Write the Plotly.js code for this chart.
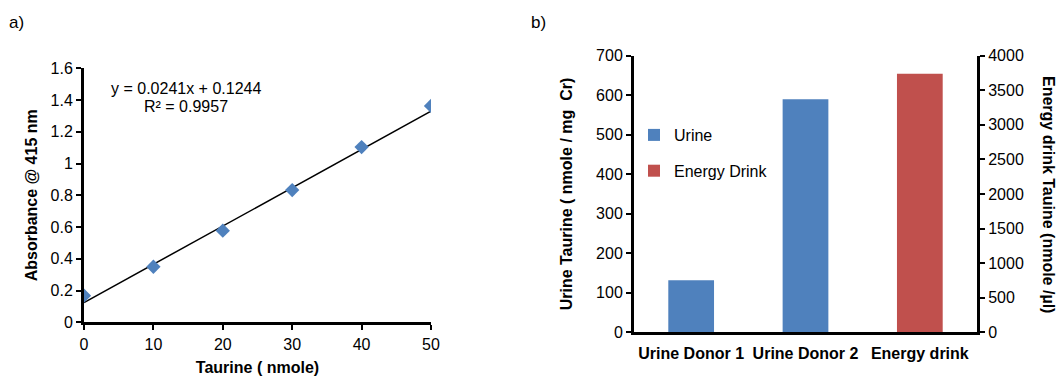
<!DOCTYPE html>
<html>
<head>
<meta charset="utf-8">
<script src="https://cdn.plot.ly/plotly-3.0.1.min.js"></script>
<style>html,body{margin:0;padding:0;background:#fff;}#chart{width:1057px;height:376px;}</style>
</head>
<body>
<div id="chart"></div>
<script>
// Panel a) calibration data
const taurineNmole = [0, 10, 20, 30, 40, 50];
const absorbance = [0.168, 0.35, 0.577, 0.833, 1.104, 1.363];
const fitSlope = 0.0241;
const fitIntercept = 0.1244;
const fitR2 = 0.9957;

// Panel b) bar data
const urineCategories = ['Urine Donor 1', 'Urine Donor 2'];
const urineValues = [132, 590];
const drinkCategories = ['Energy drink'];
const drinkValues = [3740];

const fitX = [0, 50];
const fitY = fitX.map(x => fitSlope * x + fitIntercept);

const W = 1057, H = 376;
const px = v => v / W;
const py = v => 1 - v / H;

const FONT = 'Liberation Sans, Arial, sans-serif';
const BLUE = '#4F81BD';
const RED = '#C0504D';

const traces = [
  {
    x: fitX, y: fitY, xaxis: 'x', yaxis: 'y', mode: 'lines', type: 'scatter',
    line: {color: '#000', width: 1.5}, showlegend: false, hoverinfo: 'skip'
  },
  {
    x: taurineNmole, y: absorbance, xaxis: 'x', yaxis: 'y', mode: 'markers', type: 'scatter',
    marker: {symbol: 'diamond', size: 11, color: BLUE}, showlegend: false
  },
  {
    x: urineCategories, y: urineValues, xaxis: 'x2', yaxis: 'y2', type: 'bar', name: 'Urine',
    marker: {color: BLUE}, width: 0.4, legendgroup: 'u'
  },
  {
    x: drinkCategories, y: drinkValues, xaxis: 'x2', yaxis: 'y3', type: 'bar', name: 'Energy Drink',
    marker: {color: RED}, width: 0.4, legendgroup: 'e'
  }
];

const tickFont = {family: FONT, size: 16, color: '#000'};
const titleFont = {family: FONT, size: 16, color: '#000', weight: 'bold'};

const layout = {
  width: W, height: H,
  margin: {l: 0, r: 0, t: 0, b: 0},
  paper_bgcolor: '#fff', plot_bgcolor: 'rgba(0,0,0,0)',
  font: {family: FONT, color: '#000'},
  barmode: 'overlay',
  showlegend: true,
  legend: {
    x: px(634), y: py(118), xanchor: 'left', yanchor: 'top',
    font: {family: FONT, size: 16, color: '#000'},
    traceorder: 'grouped', tracegroupgap: 12, bgcolor: 'rgba(0,0,0,0)'
  },
  xaxis: {
    domain: [px(84), px(431)], anchor: 'y', range: [0, 50], dtick: 10,
    showgrid: false, zeroline: false, showline: true, linecolor: '#000', linewidth: 3,
    ticks: 'outside', ticklen: 5, tickwidth: 2, tickcolor: '#000', tickfont: tickFont,
    title: {text: 'Taurine ( nmole)', font: titleFont, standoff: 11}, automargin: false
  },
  yaxis: {
    domain: [py(322.3), py(68.3)], anchor: 'x', range: [0, 1.6], dtick: 0.2,
    showgrid: false, zeroline: false, showline: true, linecolor: '#000', linewidth: 3,
    ticks: 'outside', ticklen: 5, tickwidth: 2, tickcolor: '#000', tickfont: tickFont,
    title: {text: 'Absorbance @ 415 nm', font: titleFont, standoff: 9}, automargin: false
  },
  xaxis2: {
    domain: [px(634), px(977)], anchor: 'y2', type: 'category', range: [-0.5, 2.5],
    categoryorder: 'array', categoryarray: ['Urine Donor 1', 'Urine Donor 2', 'Energy drink'],
    showgrid: false, zeroline: false, showline: true, linecolor: '#000', linewidth: 3,
    ticks: '', ticklabelstandoff: 4,
    tickfont: {family: FONT, size: 16, color: '#000', weight: 'bold'}, automargin: false
  },
  yaxis2: {
    domain: [py(332.3), py(55.7)], anchor: 'x2', range: [0, 700], dtick: 100,
    showgrid: false, zeroline: false, showline: true, linecolor: '#000', linewidth: 3,
    ticks: 'outside', ticklen: 5, tickwidth: 2, tickcolor: '#000', tickfont: tickFont,
    title: {text: 'Urine Taurine ( nmole / mg  Cr)', font: titleFont, standoff: 20}, automargin: false
  },
  yaxis3: {
    overlaying: 'y2', side: 'right', anchor: 'x2', range: [0, 4000], dtick: 500,
    showgrid: false, zeroline: false, showline: true, linecolor: '#000', linewidth: 3,
    ticks: 'outside', ticklen: 5, tickwidth: 2, tickcolor: '#000', tickfont: tickFont, automargin: false
  },
  annotations: [
    {xref: 'paper', yref: 'paper', x: px(7), y: py(22), xanchor: 'left', yanchor: 'middle',
     text: 'a)', showarrow: false, font: {family: FONT, size: 17, color: '#000'}},
    {xref: 'paper', yref: 'paper', x: px(529), y: py(22), xanchor: 'left', yanchor: 'middle',
     text: 'b)', showarrow: false, font: {family: FONT, size: 17, color: '#000'}},
    {xref: 'paper', yref: 'paper', x: px(186), y: py(88), xanchor: 'center', yanchor: 'middle',
     text: 'y = ' + fitSlope + 'x + ' + fitIntercept, showarrow: false,
     font: {family: FONT, size: 16, color: '#000'}},
    {xref: 'paper', yref: 'paper', x: px(186), y: py(106), xanchor: 'center', yanchor: 'middle',
     text: 'R² = ' + fitR2, showarrow: false,
     font: {family: FONT, size: 16, color: '#000'}},
    {xref: 'paper', yref: 'paper', x: px(1049), y: py(194), xanchor: 'center', yanchor: 'middle',
     text: 'Energy drink Tauine (nmole /µl)', textangle: 90, showarrow: false,
     font: titleFont}
  ]
};

Plotly.newPlot('chart', traces, layout, {displayModeBar: false, staticPlot: true});
</script>
</body>
</html>
